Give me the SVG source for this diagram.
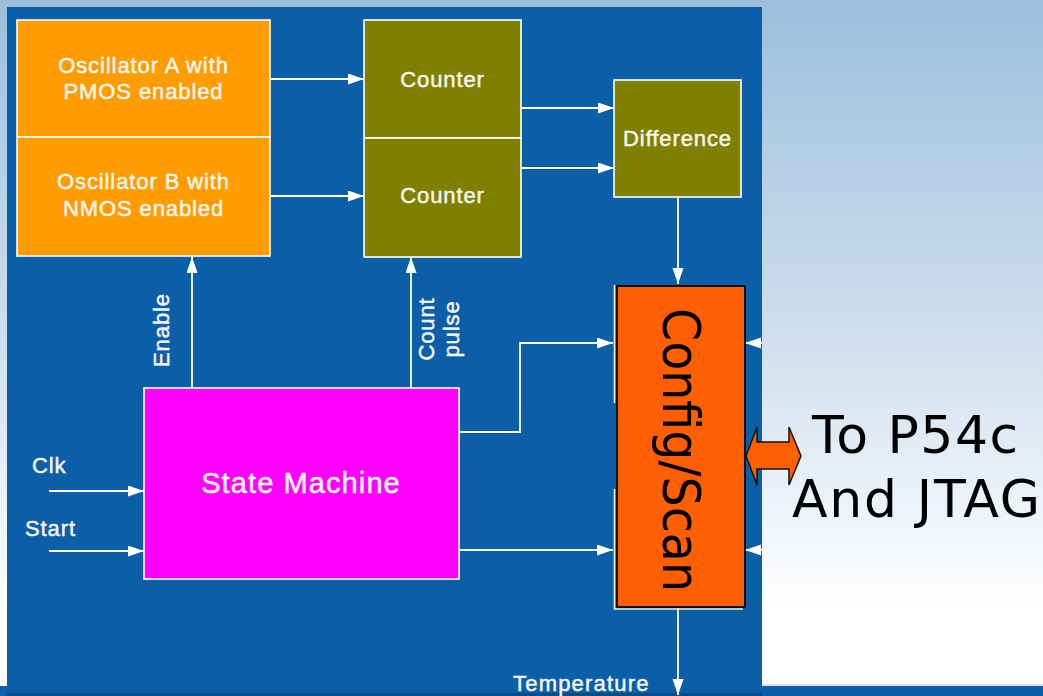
<svg xmlns="http://www.w3.org/2000/svg" width="1043" height="696" viewBox="0 0 1043 696">
  <defs>
    <linearGradient id="sky" x1="0" y1="0" x2="0" y2="1">
      <stop offset="0" stop-color="#9dbfdc"/>
      <stop offset="0.45" stop-color="#cbdcec"/>
      <stop offset="0.88" stop-color="#ffffff"/>
      <stop offset="1" stop-color="#ffffff"/>
    </linearGradient>
    <marker id="head" markerUnits="userSpaceOnUse" markerWidth="16" markerHeight="12" refX="16" refY="5.5" orient="auto">
      <path d="M0,0 L16,5.5 L0,11 Z" fill="#ffffff"/>
    </marker>
    <style>
      .blk { stroke: #ffffff; stroke-width: 1.6; }
      .osc { fill: #ff9c00; }
      .cnt { fill: #808000; }
      .sm { fill: #ff00ff; }
      .lbl { font-family: "Liberation Sans", Arial, sans-serif; font-size: 22px; letter-spacing: 0.9px; fill: #f6f4ee; stroke: #f6f4ee; stroke-width: 0.5px; }
      .sm-lbl { font-size: 29px; letter-spacing: 1.1px; }
      .mid { text-anchor: middle; }
      .wire { fill: none; stroke: #ffffff; stroke-width: 1.8; }
      .big { font-family: "DejaVu Sans", Verdana, sans-serif; font-size: 52px; fill: #000000; }
    </style>
  </defs>

  <!-- backdrop -->
  <rect x="0" y="0" width="1043" height="696" fill="url(#sky)"/>
  <rect x="0" y="686" width="1043" height="10" fill="#0b5ea8"/>
  <rect x="762" y="684" width="281" height="2" fill="#e0e0f2"/>
  <rect x="7" y="7" width="755" height="689" fill="#0b5fa8"/>
  <rect x="7" y="693" width="755" height="3" fill="#0a4c88"/>

  <!-- connectors -->
  <g id="connectors">
    <line class="wire" x1="270" y1="79" x2="364" y2="79" marker-end="url(#head)"/>
    <line class="wire" x1="270" y1="196" x2="364" y2="196" marker-end="url(#head)"/>
    <line class="wire" x1="521" y1="108" x2="614" y2="108" marker-end="url(#head)"/>
    <line class="wire" x1="521" y1="168" x2="614" y2="168" marker-end="url(#head)"/>
    <line class="wire" x1="678" y1="197" x2="678" y2="284" marker-end="url(#head)"/>
    <line class="wire" x1="192" y1="388" x2="192" y2="257" marker-end="url(#head)"/>
    <line class="wire" x1="411" y1="388" x2="411" y2="257" marker-end="url(#head)"/>
    <line class="wire" x1="49" y1="491" x2="144" y2="491" marker-end="url(#head)"/>
    <line class="wire" x1="49" y1="551" x2="144" y2="551" marker-end="url(#head)"/>
    <polyline class="wire" points="459,432 520,432 520,343 613,343" marker-end="url(#head)"/>
    <line class="wire" x1="459" y1="550" x2="613" y2="550" marker-end="url(#head)"/>
    <line class="wire" x1="762" y1="343" x2="745" y2="343" marker-end="url(#head)"/>
    <line class="wire" x1="762" y1="550" x2="745" y2="550" marker-end="url(#head)"/>
    <line class="wire" x1="678" y1="608" x2="678" y2="695" marker-end="url(#head)"/>
    <!-- edges of the register blocks behind the scan box -->
    <path d="M614.5,285 V403 M614.5,489 V609 H743" fill="none" stroke="#eeeedd" stroke-width="1.6"/>
  </g>

  <g id="osc-a">
    <rect class="blk osc" x="17" y="20" width="253" height="117"/>
    <text class="lbl mid" x="143.5" y="73">Oscillator A with</text>
    <text class="lbl mid" x="143.5" y="99">PMOS enabled</text>
  </g>
  <g id="osc-b">
    <rect class="blk osc" x="17" y="137" width="253" height="119"/>
    <text class="lbl mid" x="143.5" y="189">Oscillator B with</text>
    <text class="lbl mid" x="143.5" y="216">NMOS enabled</text>
  </g>
  <g id="counter-a">
    <rect class="blk cnt" x="364" y="20" width="157" height="118"/>
    <text class="lbl mid" x="442.5" y="87">Counter</text>
  </g>
  <g id="counter-b">
    <rect class="blk cnt" x="364" y="138" width="157" height="119"/>
    <text class="lbl mid" x="442.5" y="203">Counter</text>
  </g>
  <g id="difference">
    <rect class="blk cnt" x="614" y="80" width="127" height="117"/>
    <text class="lbl mid" x="677.5" y="146">Difference</text>
  </g>
  <g id="state-machine">
    <rect class="blk sm" x="144" y="388" width="315" height="191"/>
    <text class="lbl sm-lbl mid" x="301" y="493">State Machine</text>
  </g>

  <!-- signal labels -->
  <g id="signal-labels">
    <text class="lbl mid" transform="translate(169,330) rotate(-90)">Enable</text>
    <text class="lbl mid" transform="translate(434,329) rotate(-90)">Count</text>
    <text class="lbl mid" transform="translate(459,329) rotate(-90)">pulse</text>
    <text class="lbl" x="32" y="473">Clk</text>
    <text class="lbl" x="25" y="536">Start</text>
    <text class="lbl" x="513" y="691" style="letter-spacing:1.2px">Temperature</text>
  </g>

  <g id="config-scan">
    <rect x="617" y="286" width="128" height="321" fill="#ff5f00" stroke="#111111" stroke-width="2"/>
    <text class="big mid" transform="translate(663,450) rotate(90)" textLength="284" lengthAdjust="spacingAndGlyphs">Config/Scan</text>
  </g>

  <g id="jtag-link">
    <polygon points="746,456 757,427 757,442 789,442 789,427 801,456 789,485 789,469 757,469 757,485" fill="#ff5f00" stroke="#111111" stroke-width="1.5" stroke-linejoin="miter"/>
    <text class="big mid" x="915" y="453" textLength="206">To P54c</text>
    <text class="big mid" x="916" y="517" textLength="248">And JTAG</text>
  </g>
</svg>
